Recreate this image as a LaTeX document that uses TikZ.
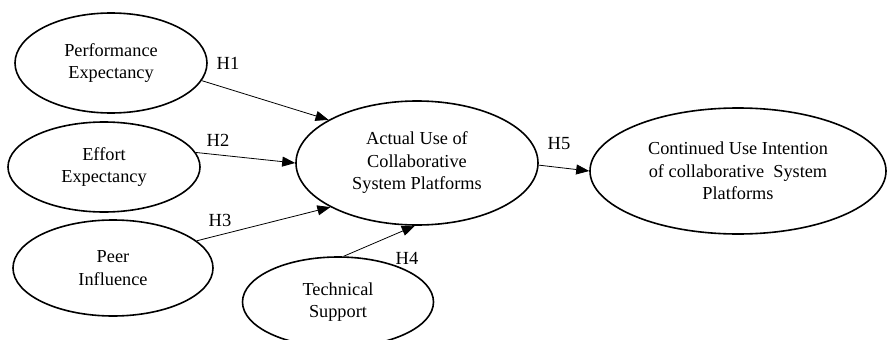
\documentclass[tikz,border=0pt]{standalone}
\usepackage{fontspec}
\setmainfont{Liberation Serif}
\usetikzlibrary{shapes.geometric,arrows.meta}
\tikzset{
  construct/.style={ellipse, draw, line width=1.6pt, inner sep=0pt, align=center,
    font=\fontsize{18.3}{22.5}\selectfont},
  path/.style={line width=0.8pt, -{Triangle[length=13pt,width=10pt]}},
  hyp/.style={font=\fontsize{18.5}{21}\selectfont, inner sep=0pt}
}
\begin{document}
\begin{tikzpicture}[x=1pt,y=-1pt]
\useasboundingbox (0,0) rectangle (889,340);
\node[construct, minimum width=192pt, minimum height=100pt] (pe) at (111,63) {Performance\\Expectancy};
\node[construct, minimum width=192pt, minimum height=90pt] (ee) at (104,167) {Effort\\Expectancy};
\node[construct, minimum width=200pt, minimum height=96pt] (pi) at (113,268) {Peer\\Influence};
\node[construct, minimum width=191pt, minimum height=90pt] (ts) at (338,302) {Technical\\Support};
\node[construct, minimum width=242pt, minimum height=124pt] (au) at (417,163) {Actual Use of\\Collaborative\\System Platforms};
\node[construct, minimum width=296pt, minimum height=126pt] (cu) at (738,171) {Continued Use Intention\\of collaborative\ \ System\\Platforms};
\draw[path] (pe.-11) -- (au.154);
\draw[path] (ee.9) -- (au.180);
\draw[path] (pi.18) -- (au.207);
\draw[path] (ts.83) -- (au.268);
\draw[path] (au.-1) -- (cu.180);
\node[hyp] (h1) at (228,63) {H1};
\node[hyp] (h2) at (218,140) {H2};
\node[hyp] (h3) at (220,220) {H3};
\node[hyp] (h4) at (407,258) {H4};
\node[hyp] (h5) at (559,144) {H5};
\end{tikzpicture}
\end{document}
